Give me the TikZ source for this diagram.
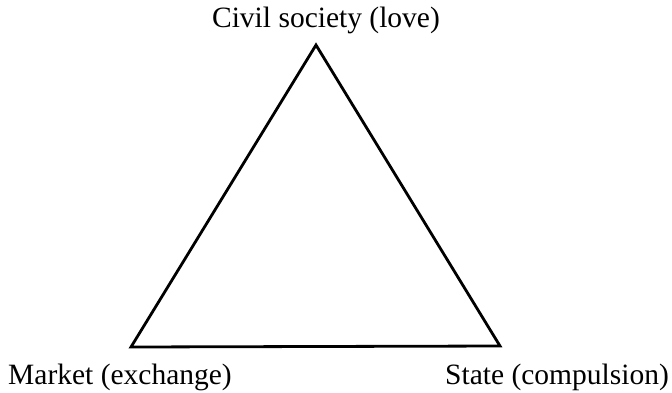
\documentclass[tikz,border=0pt]{standalone}
\usepackage{fontspec}
\setmainfont{Liberation Serif}
\usetikzlibrary{positioning}

\tikzset{
  corner/.style={font=\fontsize{29.5}{32}\selectfont, inner sep=0pt},
  side/.style={line width=2.8pt, line join=miter}
}

\begin{document}
\begin{tikzpicture}[x=1pt,y=-1pt]
  \useasboundingbox (0,0) rectangle (672,392);
  % Ecken
  \coordinate (civil) at (316,45);
  \coordinate (market) at (131,347);
  \coordinate (state) at (500,346);
  % Dreieck
  \draw[side] (civil) -- (market) -- (state) -- cycle;
  % Beschriftungen
  \node[corner] (civillabel) at (326,20) {Civil society (love)};
  \node[corner] (marketlabel) at (120,377) {Market (exchange)};
  \node[corner] (statelabel) at (557,377) {State (compulsion)};
\end{tikzpicture}
\end{document}
